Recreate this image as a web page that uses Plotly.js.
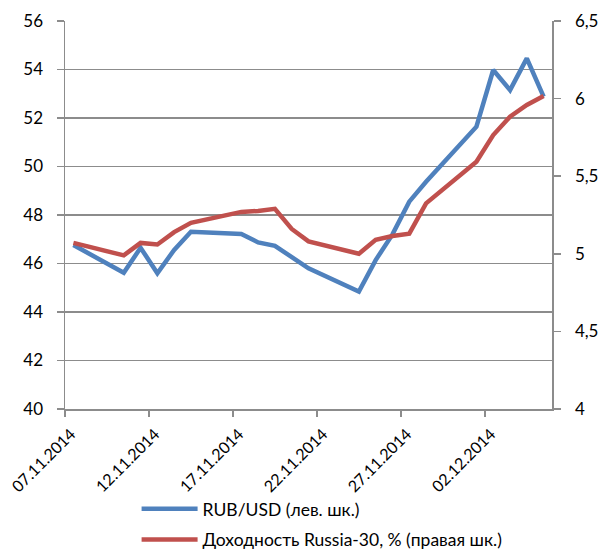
<!DOCTYPE html>
<html>
<head>
<meta charset="utf-8">
<script src="https://cdn.plot.ly/plotly-3.0.1.min.js"></script>
<style>html,body{margin:0;padding:0;background:#fff;}#chart{width:601px;height:551px;}</style>
</head>
<body>
<div id="chart"></div>
<script>
const dates = ['2014-11-07','2014-11-10','2014-11-11','2014-11-12','2014-11-13','2014-11-14',
  '2014-11-17','2014-11-18','2014-11-19','2014-11-20','2014-11-21',
  '2014-11-24','2014-11-25','2014-11-26','2014-11-27','2014-11-28',
  '2014-12-01','2014-12-02','2014-12-03','2014-12-04','2014-12-05'];
const rubUsd = [46.76,45.62,46.65,45.60,46.56,47.31,
  47.22,46.87,46.73,46.27,45.80,
  44.84,46.14,47.20,48.55,49.37,
  51.64,53.98,53.15,54.46,52.88];
const russia30 = [5.07,4.99,5.07,5.06,5.14,5.20,
  5.27,5.276,5.29,5.16,5.08,
  5.00,5.09,5.115,5.13,5.325,
  5.593,5.765,5.883,5.959,6.017];
const seriesNames = ['RUB/USD (лев. шк.)','Доходность Russia-30, % (правая шк.)'];

const xMid = dates.map(d => d + ' 12:00');
const fam = 'Lato, "Open Sans", sans-serif';
const grid = '#8c8c8c';

const traces = [
  {x: xMid, y: rubUsd, name: seriesNames[0], type: 'scatter', mode: 'lines',
   line: {color: '#4F81BD', width: 4.5}, yaxis: 'y', legendgroup: 'a'},
  {x: xMid, y: russia30, name: seriesNames[1], type: 'scatter', mode: 'lines',
   line: {color: '#C0504D', width: 4.5}, yaxis: 'y2', legendgroup: 'b'}
];

const layout = {
  width: 601, height: 551,
  margin: {l: 65, r: 49, t: 21, b: 142, autoexpand: false},
  paper_bgcolor: '#fff', plot_bgcolor: '#fff',
  separators: ', ',
  font: {family: fam, size: 16, color: '#000'},
  showlegend: true,
  xaxis: {
    type: 'date', range: ['2014-11-07', '2014-12-06'],
    tick0: '2014-11-07', dtick: 5 * 86400000, tickformat: '%d.%m.%Y',
    tickangle: -45, tickfont: {family: fam, size: 16, color: '#000'},
    ticklabelshift: 6, ticklabelstandoff: 2,
    showgrid: false, zeroline: false, automargin: false,
    showline: true, linecolor: grid, linewidth: 1.5,
    ticks: 'outside', ticklen: 6, tickcolor: grid, tickwidth: 1.5
  },
  yaxis: {
    range: [40, 56], dtick: 2, tick0: 40, automargin: false,
    showgrid: true, gridcolor: grid, gridwidth: 1.5, zeroline: false,
    showline: true, linecolor: grid, linewidth: 1.5,
    ticks: 'outside', ticklen: 7, tickcolor: grid, tickwidth: 1.5,
    ticklabelstandoff: 10,
    tickfont: {family: fam, size: 17, color: '#000'}
  },
  yaxis2: {
    range: [4, 6.5], dtick: 0.5, tick0: 4, overlaying: 'y', side: 'right', automargin: false,
    showgrid: false, zeroline: false,
    showline: true, linecolor: grid, linewidth: 1.5,
    ticks: 'outside', ticklen: 7, tickcolor: grid, tickwidth: 1.5,
    ticklabelstandoff: 11,
    tickfont: {family: fam, size: 17, color: '#000'}
  },
  legend: {
    orientation: 'v', x: 0.147, xanchor: 'left',
    y: -0.211, yanchor: 'top',
    font: {family: fam, size: 17.5, color: '#000'},
    bgcolor: 'rgba(0,0,0,0)', itemwidth: 56,
    traceorder: 'grouped', tracegroupgap: 5
  }
};

Plotly.newPlot('chart', traces, layout, {displayModeBar: false, staticPlot: true});
</script>
</body>
</html>
